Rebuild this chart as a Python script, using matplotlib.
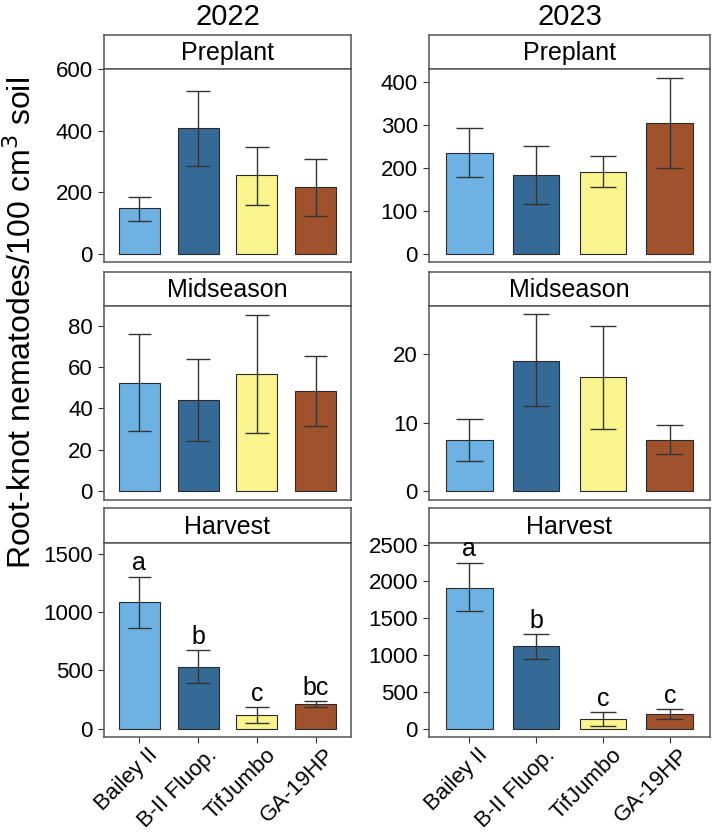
import matplotlib
matplotlib.use('Agg')
import matplotlib.pyplot as plt
import matplotlib.transforms as mtransforms
import numpy as np

plt.rcParams['font.family'] = ['Liberation Sans', 'DejaVu Sans']

cultivars = ['Bailey II', 'B-II Fluop.', 'TifJumbo', 'GA-19HP']
colors = ['#6DB2E3', '#346A95', '#FAF48E', '#A0522D']
years = ['2022', '2023']
stages = ['Preplant', 'Midseason', 'Harvest']

# 2022
pre22 = [148, 408, 255, 216]
pre22_lo = [108, 285, 160, 123]
pre22_hi = [184, 530, 347, 309]
mid22 = [52.3, 44.0, 56.8, 48.2]
mid22_lo = [29.0, 24.4, 27.9, 31.3]
mid22_hi = [76.1, 64.0, 85.3, 65.3]
har22 = [1087, 531, 117, 213]
har22_lo = [862, 391, 48, 185]
har22_hi = [1303, 674, 183, 234]
let22 = ['a', 'b', 'c', 'bc']

# 2023
pre23 = [235, 183, 190, 306]
pre23_lo = [178, 117, 155, 200]
pre23_hi = [293, 251, 227, 411]
mid23 = [7.5, 19.1, 16.7, 7.5]
mid23_lo = [4.35, 12.4, 9.1, 5.4]
mid23_hi = [10.5, 25.9, 24.1, 9.6]
har23 = [1916, 1118, 136, 198]
har23_lo = [1598, 941, 41, 126]
har23_hi = [2255, 1281, 226, 262]
let23 = ['a', 'b', 'c', 'c']

data = {
    ('2022', 'Preplant'): (pre22, pre22_lo, pre22_hi, None),
    ('2022', 'Midseason'): (mid22, mid22_lo, mid22_hi, None),
    ('2022', 'Harvest'): (har22, har22_lo, har22_hi, let22),
    ('2023', 'Preplant'): (pre23, pre23_lo, pre23_hi, None),
    ('2023', 'Midseason'): (mid23, mid23_lo, mid23_hi, None),
    ('2023', 'Harvest'): (har23, har23_lo, har23_hi, let23),
}

ylims = {
    ('2022', 'Preplant'): ((-26, 600), [0, 200, 400, 600]),
    ('2022', 'Midseason'): ((-4.36, 89.5), [0, 20, 40, 60, 80]),
    ('2022', 'Harvest'): ((-72, 1591), [0, 500, 1000, 1500]),
    ('2023', 'Preplant'): ((-19.4, 431), [0, 100, 200, 300, 400]),
    ('2023', 'Midseason'): ((-1.32, 27.1), [0, 10, 20]),
    ('2023', 'Harvest'): ((-114, 2522), [0, 500, 1000, 1500, 2000, 2500]),
}

W, H = 715, 833
fig = plt.figure(figsize=(W / 100, H / 100), dpi=100)

def rect(x0, x1, y0, y1):
    return [x0 / W, 1 - y1 / H, (x1 - x0) / W, (y1 - y0) / H]

cols = {'2022': (104, 351), '2023': (429, 710)}
rows = {'Preplant': (35, 69, 262), 'Midseason': (272, 306, 500), 'Harvest': (508, 543, 737)}

border = '#555555'
x = np.arange(len(cultivars))
shift = mtransforms.ScaledTranslation(8 / 100, 1 / 100, fig.dpi_scale_trans)

for yr in years:
    x0, x1 = cols[yr]
    for st in stages:
        s0, s1, p1 = rows[st]
        # strip
        sax = fig.add_axes(rect(x0, x1, s0, s1))
        sax.set_xticks([]); sax.set_yticks([])
        for sp in sax.spines.values():
            sp.set_color(border); sp.set_linewidth(1.1)
        sax.text(0.5, 0.47, st, ha='center', va='center', fontsize=18, transform=sax.transAxes)
        # panel
        ax = fig.add_axes(rect(x0, x1, s1, p1))
        vals, lo, hi, lets = data[(yr, st)]
        ax.bar(x, vals, width=0.7, color=colors, edgecolor='#2a2a2a', linewidth=0.8, zorder=2)
        ax.vlines(x, lo, hi, color='#333333', linewidth=1.0, zorder=3)
        ax.hlines(lo, x - 0.2, x + 0.2, color='#333333', linewidth=1.0, zorder=3)
        ax.hlines(hi, x - 0.2, x + 0.2, color='#333333', linewidth=1.0, zorder=3)
        if lets is not None:
            for xi, h, l in zip(x, hi, lets):
                ax.annotate(l, (xi, h), xytext=(0, 4.5), textcoords='offset points',
                            ha='center', va='baseline', fontsize=18)
        (ylo, yhi), ticks = ylims[(yr, st)]
        ax.set_ylim(ylo, yhi)
        ax.set_yticks(ticks)
        ax.set_xlim(-0.6, 3.6)
        for sp in ax.spines.values():
            sp.set_color(border); sp.set_linewidth(1.1)
        ax.tick_params(axis='y', length=4, width=0.8, color='#333333', labelsize=16, pad=4)
        if st == 'Harvest':
            ax.set_xticks(x)
            ax.set_xticklabels(cultivars, rotation=45, ha='right', va='top',
                               rotation_mode='anchor', fontsize=16)
            ax.tick_params(axis='x', length=4, width=0.8, color='#333333', pad=2)
            for lab in ax.get_xticklabels():
                lab.set_transform(lab.get_transform() + shift)
        else:
            ax.set_xticks([])
    fig.text((x0 + x1) / 2 / W, 1 - 17 / H, yr, ha='center', va='center', fontsize=21)

fig.text(22 / W, 1 - 323 / H, 'Root-knot nematodes/100 cm$^3$ soil', rotation=90,
         ha='center', va='center', fontsize=23)

fig.savefig('out.png', dpi=100)
